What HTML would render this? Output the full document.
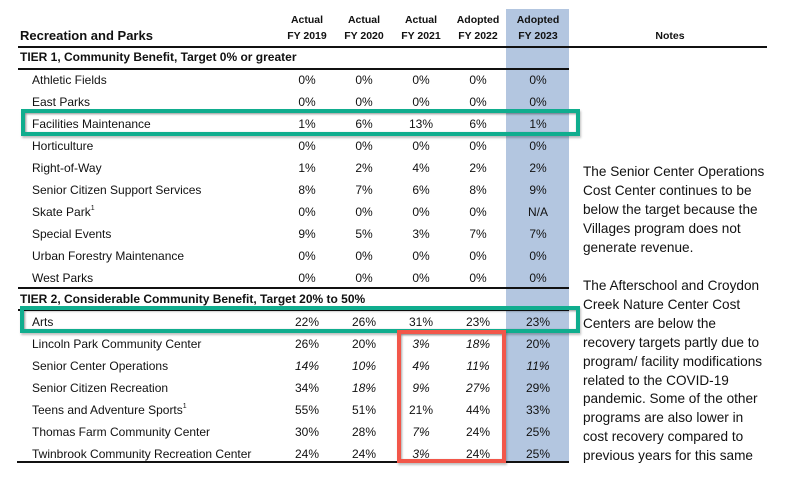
<!DOCTYPE html>
<html><head><meta charset="utf-8"><style>
html,body{margin:0;padding:0;background:#fff;}
body{width:795px;height:477px;overflow:hidden;position:relative;font-family:"Liberation Sans",Arial,sans-serif;color:#111;}
.a{position:absolute;white-space:nowrap;}
.lbl{position:absolute;left:32px;font-size:12px;line-height:22px;height:22px;}
.tier{position:absolute;left:20px;font-size:12px;font-weight:bold;line-height:22px;}
.v{position:absolute;font-size:12px;line-height:22px;width:50px;text-align:center;}
.i{font-style:italic;}
.h{position:absolute;font-size:10.5px;font-weight:bold;text-align:center;width:60px;line-height:16px;}
.line{position:absolute;height:1.5px;background:#111;}
sup{font-size:7px;vertical-align:6px;line-height:0;}
.notes{position:absolute;left:583px;font-size:13.6px;line-height:18.9px;white-space:nowrap;color:#111;}
</style></head><body>
<!-- blue column -->
<div class="a" style="left:506px;top:9px;width:63px;height:454px;background:#b3c6e0;"></div>

<!-- header -->
<div class="a" style="left:20px;top:27px;font-size:13px;font-weight:bold;line-height:18px;">Recreation and Parks</div>
<div class="h" style="left:277px;top:12px;">Actual<br>FY 2019</div>
<div class="h" style="left:334px;top:12px;">Actual<br>FY 2020</div>
<div class="h" style="left:391px;top:12px;">Actual<br>FY 2021</div>
<div class="h" style="left:448px;top:12px;">Adopted<br>FY 2022</div>
<div class="h" style="left:508px;top:12px;">Adopted<br>FY 2023</div>
<div class="h" style="left:640px;top:28px;">Notes</div>
<div class="line" style="left:18px;top:46px;width:749px;"></div>

<div class="tier" style="top:46px;">TIER 1, Community Benefit, Target 0% or greater</div>
<div class="line" style="left:18px;top:68px;width:551px;"></div>

<!-- Tier 1 rows -->
<div class="lbl" style="top:69px;">Athletic Fields</div>
<div class="v" style="left:282px;top:69px;">0%</div><div class="v" style="left:339px;top:69px;">0%</div><div class="v" style="left:396px;top:69px;">0%</div><div class="v" style="left:453px;top:69px;">0%</div><div class="v" style="left:513px;top:69px;">0%</div>

<div class="lbl" style="top:91px;">East Parks</div>
<div class="v" style="left:282px;top:91px;">0%</div><div class="v" style="left:339px;top:91px;">0%</div><div class="v" style="left:396px;top:91px;">0%</div><div class="v" style="left:453px;top:91px;">0%</div><div class="v" style="left:513px;top:91px;">0%</div>

<div class="lbl" style="top:113px;">Facilities Maintenance</div>
<div class="v" style="left:282px;top:113px;">1%</div><div class="v" style="left:339px;top:113px;">6%</div><div class="v" style="left:396px;top:113px;">13%</div><div class="v" style="left:453px;top:113px;">6%</div><div class="v" style="left:513px;top:113px;">1%</div>

<div class="lbl" style="top:135px;">Horticulture</div>
<div class="v" style="left:282px;top:135px;">0%</div><div class="v" style="left:339px;top:135px;">0%</div><div class="v" style="left:396px;top:135px;">0%</div><div class="v" style="left:453px;top:135px;">0%</div><div class="v" style="left:513px;top:135px;">0%</div>

<div class="lbl" style="top:157px;">Right-of-Way</div>
<div class="v" style="left:282px;top:157px;">1%</div><div class="v" style="left:339px;top:157px;">2%</div><div class="v" style="left:396px;top:157px;">4%</div><div class="v" style="left:453px;top:157px;">2%</div><div class="v" style="left:513px;top:157px;">2%</div>

<div class="lbl" style="top:179px;">Senior Citizen Support Services</div>
<div class="v" style="left:282px;top:179px;">8%</div><div class="v" style="left:339px;top:179px;">7%</div><div class="v" style="left:396px;top:179px;">6%</div><div class="v" style="left:453px;top:179px;">8%</div><div class="v" style="left:513px;top:179px;">9%</div>

<div class="lbl" style="top:201px;">Skate Park<sup>1</sup></div>
<div class="v" style="left:282px;top:201px;">0%</div><div class="v" style="left:339px;top:201px;">0%</div><div class="v" style="left:396px;top:201px;">0%</div><div class="v" style="left:453px;top:201px;">0%</div><div class="v" style="left:513px;top:201px;">N/A</div>

<div class="lbl" style="top:223px;">Special Events</div>
<div class="v" style="left:282px;top:223px;">9%</div><div class="v" style="left:339px;top:223px;">5%</div><div class="v" style="left:396px;top:223px;">3%</div><div class="v" style="left:453px;top:223px;">7%</div><div class="v" style="left:513px;top:223px;">7%</div>

<div class="lbl" style="top:245px;">Urban Forestry Maintenance</div>
<div class="v" style="left:282px;top:245px;">0%</div><div class="v" style="left:339px;top:245px;">0%</div><div class="v" style="left:396px;top:245px;">0%</div><div class="v" style="left:453px;top:245px;">0%</div><div class="v" style="left:513px;top:245px;">0%</div>

<div class="lbl" style="top:267px;">West Parks</div>
<div class="v" style="left:282px;top:267px;">0%</div><div class="v" style="left:339px;top:267px;">0%</div><div class="v" style="left:396px;top:267px;">0%</div><div class="v" style="left:453px;top:267px;">0%</div><div class="v" style="left:513px;top:267px;">0%</div>

<div class="line" style="left:18px;top:287px;width:551px;"></div>
<div class="tier" style="top:288px;">TIER 2, Considerable Community Benefit, Target 20% to 50%</div>
<div class="line" style="left:18px;top:309px;width:551px;"></div>

<!-- Tier 2 rows -->
<div class="lbl" style="top:311px;">Arts</div>
<div class="v" style="left:282px;top:311px;">22%</div><div class="v" style="left:339px;top:311px;">26%</div><div class="v" style="left:396px;top:311px;">31%</div><div class="v" style="left:453px;top:311px;">23%</div><div class="v" style="left:513px;top:311px;">23%</div>

<div class="lbl" style="top:333px;">Lincoln Park Community Center</div>
<div class="v" style="left:282px;top:333px;">26%</div><div class="v" style="left:339px;top:333px;">20%</div><div class="v i" style="left:396px;top:333px;">3%</div><div class="v i" style="left:453px;top:333px;">18%</div><div class="v" style="left:513px;top:333px;">20%</div>

<div class="lbl" style="top:355px;">Senior Center Operations</div>
<div class="v i" style="left:282px;top:355px;">14%</div><div class="v i" style="left:339px;top:355px;">10%</div><div class="v i" style="left:396px;top:355px;">4%</div><div class="v i" style="left:453px;top:355px;">11%</div><div class="v i" style="left:513px;top:355px;">11%</div>

<div class="lbl" style="top:377px;">Senior Citizen Recreation</div>
<div class="v" style="left:282px;top:377px;">34%</div><div class="v i" style="left:339px;top:377px;">18%</div><div class="v i" style="left:396px;top:377px;">9%</div><div class="v i" style="left:453px;top:377px;">27%</div><div class="v" style="left:513px;top:377px;">29%</div>

<div class="lbl" style="top:399px;">Teens and Adventure Sports<sup>1</sup></div>
<div class="v" style="left:282px;top:399px;">55%</div><div class="v" style="left:339px;top:399px;">51%</div><div class="v" style="left:396px;top:399px;">21%</div><div class="v" style="left:453px;top:399px;">44%</div><div class="v" style="left:513px;top:399px;">33%</div>

<div class="lbl" style="top:421px;">Thomas Farm Community Center</div>
<div class="v" style="left:282px;top:421px;">30%</div><div class="v" style="left:339px;top:421px;">28%</div><div class="v i" style="left:396px;top:421px;">7%</div><div class="v" style="left:453px;top:421px;">24%</div><div class="v" style="left:513px;top:421px;">25%</div>

<div class="lbl" style="top:443px;">Twinbrook Community Recreation Center</div>
<div class="v" style="left:282px;top:443px;">24%</div><div class="v" style="left:339px;top:443px;">24%</div><div class="v i" style="left:396px;top:443px;">3%</div><div class="v" style="left:453px;top:443px;">24%</div><div class="v" style="left:513px;top:443px;">25%</div>

<div class="line" style="left:17px;top:461px;width:552px;"></div>

<!-- highlight boxes -->
<div class="a" style="left:21px;top:109px;width:559px;height:27px;box-sizing:border-box;border:4px solid #10ad8e;box-shadow:inset 1px 1px 2px rgba(0,0,0,.45),1px 2px 2px rgba(0,0,0,.25);"></div>
<div class="a" style="left:20px;top:306px;width:560px;height:27px;box-sizing:border-box;border:4px solid #10ad8e;box-shadow:inset 1px 1px 2px rgba(0,0,0,.45),1px 2px 2px rgba(0,0,0,.25);"></div>
<div class="a" style="left:397px;top:330px;width:109px;height:133px;box-sizing:border-box;border:4px solid #f2574a;box-shadow:inset 1px 1px 2px rgba(0,0,0,.35),1px 2px 2px rgba(0,0,0,.25);"></div>

<!-- notes -->
<div class="notes" style="top:163px;">The Senior Center Operations<br>Cost Center continues to be<br>below the target because the<br>Villages program does not<br>generate revenue.</div>
<div class="notes" style="top:277px;">The Afterschool and Croydon<br>Creek Nature Center Cost<br>Centers are below the<br>recovery targets partly due to<br>program/ facility modifications<br>related to the COVID-19<br>pandemic. Some of the other<br>programs are also lower in<br>cost recovery compared to<br>previous years for this same</div>
</body></html>
